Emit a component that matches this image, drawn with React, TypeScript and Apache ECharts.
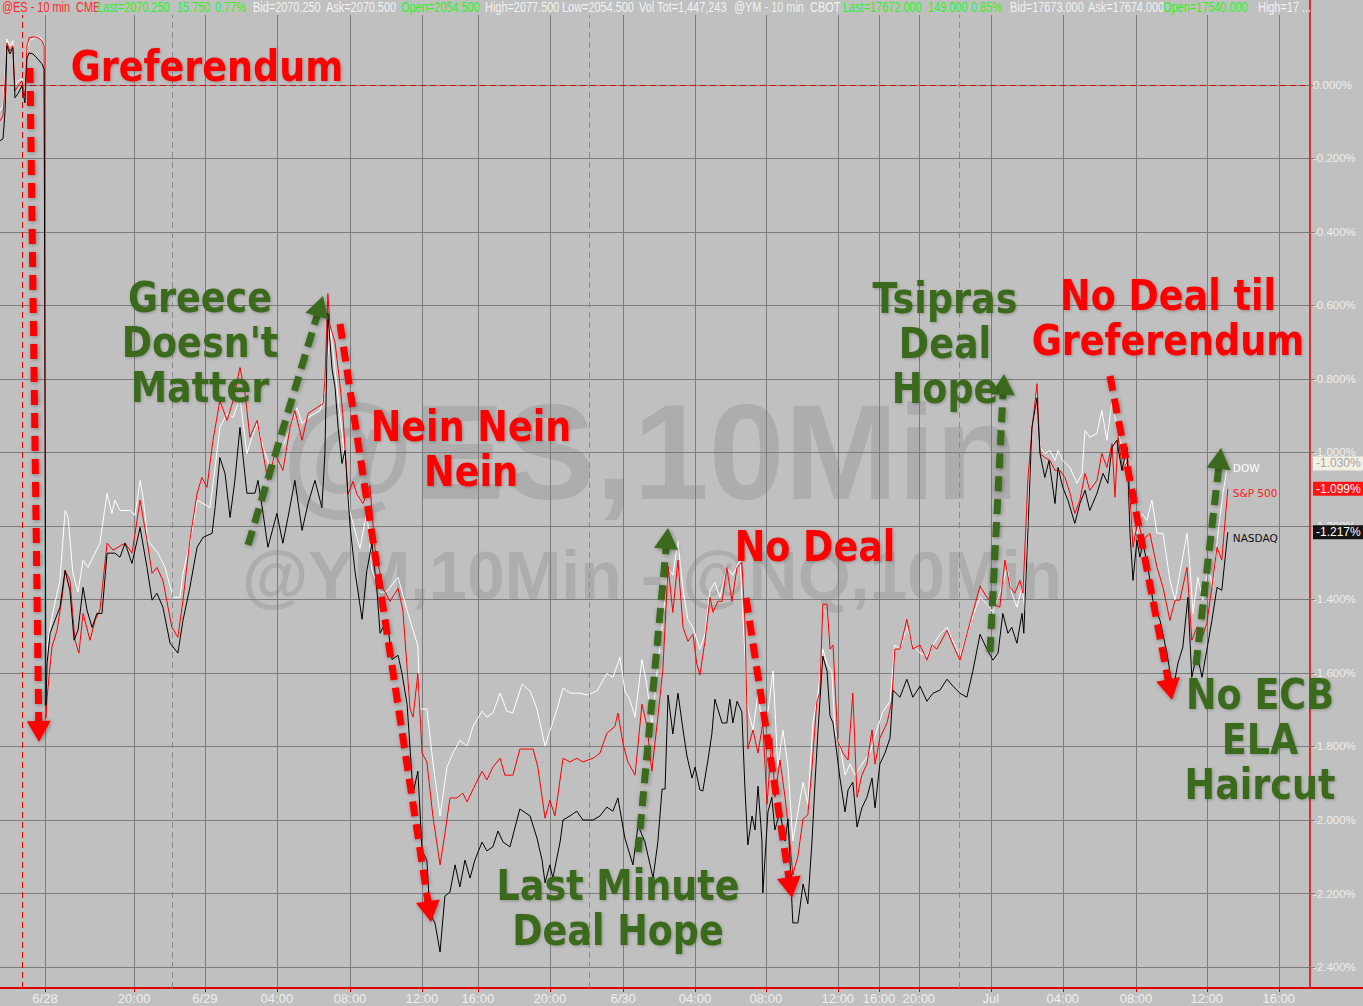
import React, { useEffect, useRef } from "react";
import * as echarts from "echarts";

// x unit = 10-minute bar index on the session chart
const tickBars = [15, 44.7, 68.3, 92.3, 116.7, 140.7, 159.3, 183.3, 207.7, 231.7, 255.3, 279.3, 293, 306.3, 330.3, 354.3, 378.7, 402.3, 426.3];
const tickLabels = ["6/28", "20:00", "6/29", "04:00", "08:00", "12:00", "16:00", "20:00", "6/30", "04:00", "08:00", "12:00", "16:00", "20:00", "Jul", "04:00", "08:00", "12:00", "16:00"];
const weekendBreak = 7.3;
const sessionBreaks = [57.3, 196.3, 319.7];
const yTicks = [0, -0.2, -0.4, -0.6, -0.8, -1.0, -1.2, -1.4, -1.6, -1.8, -2.0, -2.2, -2.4];
const X_MIN = 0, X_MAX = 436.7, Y_MIN = -2.457, Y_MAX = 0.19;
const lastDow = -1.03, lastSpx = -1.099, lastNdx = -1.217;

const dow = [[0,-0.071],[1,-0.057],[1.7,0.038],[2.3,0.125],[3.3,0.106],[4.3,0.12],[5,-0.003],[6,0.011],[7.3,0.016],[8.3,-0.016],[9,0.098],[9.7,0.12],[11,0.125],[12.3,0.133],[14,0.125],[14.7,0.114],[15.3,-1.674],[15.7,-1.53],[16.7,-1.476],[18.3,-1.41],[20,-1.348],[21.7,-1.158],[22.7,-1.177],[24.3,-1.329],[26,-1.38],[27.7,-1.293],[29.3,-1.313],[31,-1.285],[33.3,-1.247],[35.7,-1.111],[37.3,-1.166],[38.3,-1.13],[40,-1.158],[43.3,-1.158],[45,-1.171],[46.7,-1.076],[47.7,-1.122],[49.3,-1.239],[51,-1.258],[52.7,-1.274],[55,-1.313],[57.7,-1.394],[60,-1.394],[61,-1.329],[63.3,-1.247],[65.7,-1.13],[67.7,-1.139],[70,-1.15],[71.7,-1.041],[73.3,-0.932],[75.7,-0.894],[77.7,-0.905],[80,-0.851],[82.3,-1.003],[84,-0.959],[85.7,-0.921],[87.7,-0.986],[90,-1.041],[92.3,-1.003],[94.3,-0.986],[96.7,-0.932],[99,-0.878],[100.7,-0.921],[102.7,-0.905],[105,-0.894],[106.7,-0.886],[108.3,-0.832],[109.3,-0.736],[110.3,-0.668],[111.7,-0.777],[113.3,-0.897],[115,-1.019],[116.7,-1.163],[118.3,-1.212],[120,-1.261],[122.3,-1.163],[124,-1.321],[126.7,-1.38],[128.7,-1.38],[132.7,-1.34],[135.7,-1.429],[139.3,-1.527],[140,-1.698],[142.3,-1.698],[144.3,-1.842],[146.7,-1.989],[149,-1.856],[151,-1.818],[153.3,-1.783],[155.7,-1.799],[157.7,-1.745],[160.7,-1.704],[162.3,-1.72],[164.3,-1.709],[166.7,-1.655],[169,-1.704],[171,-1.709],[174,-1.63],[176.7,-1.649],[179,-1.698],[181.7,-1.799],[183.3,-1.758],[185.7,-1.698],[187.7,-1.641],[190,-1.655],[193.3,-1.655],[195.7,-1.66],[199,-1.649],[202.3,-1.601],[204.3,-1.612],[206.7,-1.557],[208.3,-1.649],[210,-1.674],[211.7,-1.72],[214,-1.563],[215.7,-1.636],[217.3,-1.745],[219.3,-1.576],[221,-1.454],[222.7,-1.313],[224.3,-1.334],[226,-1.242],[227.7,-1.375],[229.3,-1.454],[231,-1.476],[233.3,-1.535],[235,-1.495],[236.7,-1.375],[238.3,-1.353],[240,-1.394],[242.3,-1.313],[244.3,-1.334],[246.7,-1.293],[247.7,-1.454],[249.3,-1.696],[251,-1.755],[252.7,-1.655],[254.3,-1.755],[256,-1.706],[257.7,-1.595],[259.3,-1.856],[261,-1.755],[262.7,-1.856],[264.3,-2.057],[266,-1.978],[267.7,-1.897],[269.3,-1.957],[271,-1.736],[272.7,-1.655],[274.3,-1.535],[275.7,-1.576],[277.3,-1.595],[278.3,-1.755],[280,-1.796],[281.7,-1.878],[283.3,-1.848],[285,-1.878],[286.7,-1.856],[288.3,-1.837],[290,-1.818],[292.3,-1.755],[294.3,-1.706],[296.7,-1.677],[298.3,-1.524],[300,-1.535],[302.3,-1.476],[304.3,-1.524],[306.7,-1.546],[309,-1.554],[311,-1.524],[313.3,-1.495],[315.7,-1.476],[317.7,-1.514],[320,-1.554],[322.3,-1.495],[324.3,-1.446],[326.7,-1.394],[329,-1.413],[331,-1.435],[333.3,-1.383],[335.7,-1.313],[337.3,-1.383],[339,-1.421],[340.7,-1.367],[341.7,-1.429],[342.7,-1.158],[344,-0.94],[345.7,-0.84],[346.7,-0.986],[348.3,-1.003],[350,-0.995],[351.7,-1.022],[352.7,-0.995],[354.3,-1.022],[356.7,-1.041],[359,-1.084],[360.7,-1.057],[361.7,-0.94],[363.3,-0.959],[365.7,-0.948],[367.3,-0.886],[369,-0.967],[370.7,-0.859],[372.3,-0.932],[374,-0.986],[375.7,-1.041],[377.3,-1.204],[379,-1.22],[380.7,-1.166],[382.3,-1.185],[384,-1.13],[385.7,-1.22],[387.7,-1.22],[390,-1.348],[391.7,-1.402],[393.3,-1.329],[395.7,-1.22],[396.7,-1.313],[397.7,-1.438],[399.3,-1.34],[401,-1.402],[402.7,-1.313],[404.3,-1.367],[406,-1.22],[407.7,-1.111],[409.3,-1.03]];

const spx = [[0,-0.098],[1,-0.084],[1.7,0.011],[2.3,0.114],[3.3,0.092],[4.3,0.106],[5,-0.016],[6,-0.003],[7.3,0.011],[8.3,-0.03],[9,0.106],[9.7,0.128],[11,0.13],[12.3,0.13],[14,0.12],[14.7,0.106],[15.3,-1.723],[15.7,-1.666],[17.3,-1.53],[19,-1.484],[20.7,-1.394],[21.7,-1.321],[23.3,-1.348],[25,-1.511],[26.3,-1.546],[27.7,-1.438],[30,-1.511],[31.7,-1.457],[33.3,-1.429],[35.7,-1.247],[37.7,-1.266],[39.3,-1.258],[41.7,-1.247],[44,-1.274],[46.7,-1.13],[49,-1.239],[50.7,-1.329],[52.3,-1.313],[54.3,-1.348],[57.3,-1.476],[59.3,-1.503],[61,-1.402],[63.3,-1.239],[65.7,-1.111],[67.3,-1.068],[69,-1.095],[71,-0.967],[73.3,-0.859],[75.7,-0.913],[77.7,-0.859],[80,-0.769],[81.7,-0.84],[83.3,-0.959],[85.7,-0.913],[87.7,-1.003],[89.3,-1.076],[91.7,-1.003],[94.3,-1.049],[96.7,-0.932],[98.3,-0.886],[100.7,-0.967],[102.7,-0.894],[105.7,-0.878],[107.7,-0.867],[108.3,-0.804],[109.3,-0.568],[110,-0.655],[111.7,-0.701],[113.3,-0.813],[114.3,-0.897],[116,-1.114],[117.7,-1.079],[119,-1.114],[121,-1.139],[123.3,-1.09],[125,-1.261],[127.7,-1.37],[130,-1.405],[132.7,-1.37],[134.3,-1.429],[136.7,-1.698],[137.7,-1.72],[139.3,-1.601],[140.7,-1.818],[142.3,-1.842],[144.3,-1.989],[146.7,-2.122],[148.3,-2.038],[150,-1.94],[152.3,-1.94],[154.3,-1.927],[155.7,-1.951],[157.7,-1.916],[160.7,-1.867],[162.3,-1.891],[164.3,-1.856],[166.7,-1.832],[168.3,-1.878],[171,-1.878],[173.3,-1.807],[175.7,-1.807],[177.7,-1.807],[179.3,-1.856],[181.7,-1.995],[183.3,-1.946],[185,-1.989],[187.7,-1.832],[190,-1.842],[192.3,-1.832],[194.3,-1.842],[197.7,-1.832],[200,-1.818],[202.3,-1.764],[205,-1.745],[206,-1.709],[207.7,-1.793],[209.3,-1.842],[211.7,-1.878],[214,-1.685],[215.7,-1.745],[217.3,-1.867],[219.3,-1.72],[221,-1.587],[222.7,-1.31],[224.3,-1.435],[226,-1.293],[227.7,-1.476],[229.3,-1.514],[231,-1.495],[232.3,-1.576],[233.3,-1.606],[235,-1.514],[236.7,-1.394],[237.7,-1.435],[239.3,-1.405],[240.7,-1.405],[242.3,-1.313],[244,-1.405],[245.7,-1.313],[247.3,-1.299],[248.3,-1.454],[249.3,-1.807],[251,-1.755],[252.7,-1.818],[254.3,-1.736],[255.7,-1.957],[257.3,-1.777],[258.3,-1.938],[260,-1.837],[261.7,-1.938],[263.3,-2.057],[264.3,-2.149],[266,-2.098],[267.7,-1.997],[269.3,-1.986],[270.7,-1.856],[272.3,-1.677],[273.3,-1.655],[274.3,-1.413],[275.7,-1.413],[276.7,-1.535],[277.7,-1.524],[279.3,-1.785],[281,-1.818],[282.7,-1.837],[284.3,-1.655],[285.7,-1.938],[287.3,-1.878],[289,-1.848],[290.7,-1.755],[291.7,-1.848],[293.3,-1.777],[295.7,-1.736],[297.3,-1.677],[298.3,-1.535],[300,-1.535],[302.3,-1.454],[304.3,-1.535],[306.7,-1.524],[309,-1.565],[310.7,-1.524],[312.3,-1.535],[315.7,-1.484],[317.7,-1.524],[320,-1.565],[322.3,-1.495],[324.3,-1.435],[326.7,-1.364],[329,-1.394],[331,-1.413],[333.3,-1.421],[335,-1.293],[336.7,-1.367],[338.3,-1.383],[340,-1.348],[341,-1.383],[342.7,-1.068],[344,-0.94],[345.7,-0.813],[346.7,-1.003],[348.3,-1.014],[350,-1.022],[351.7,-1.049],[353.3,-1.049],[355,-1.068],[356.7,-1.111],[358.3,-1.166],[360,-1.13],[361.7,-1.057],[363.3,-1.103],[365.7,-1.076],[367.3,-1.003],[369,-1.041],[370.7,-0.976],[371.7,-1.122],[372.7,-0.959],[374.3,-1.049],[376,-1.022],[377.7,-1.258],[379.3,-1.185],[381,-1.239],[383.3,-1.22],[385.7,-1.313],[387.7,-1.367],[390,-1.457],[391.7,-1.402],[393.3,-1.402],[395.7,-1.313],[397.3,-1.511],[399,-1.476],[400.7,-1.503],[402.3,-1.465],[404,-1.367],[405.7,-1.258],[407.3,-1.293],[409.3,-1.099]];

const ndx = [[0,-0.152],[1,-0.147],[1.7,-0.071],[2.3,0.106],[3.3,0.084],[4.3,0.101],[5,-0.035],[6,-0.024],[7.3,-0.003],[8.3,-0.049],[9,0.073],[9.7,0.087],[11,0.084],[12.3,0.073],[14,0.057],[14.7,0.043],[15.3,-1.688],[15.7,-1.573],[16.7,-1.492],[18.3,-1.457],[20,-1.421],[21.7,-1.321],[23.3,-1.375],[24.7,-1.511],[26,-1.484],[27.7,-1.367],[29,-1.429],[30.7,-1.476],[32.3,-1.438],[34,-1.438],[35.7,-1.274],[38.3,-1.274],[40,-1.285],[41.7,-1.247],[44,-1.302],[46.7,-1.204],[49,-1.313],[50.7,-1.402],[52.3,-1.383],[54.3,-1.421],[56.7,-1.519],[59.3,-1.546],[61,-1.457],[63.3,-1.367],[65.7,-1.258],[67.7,-1.231],[70.7,-1.22],[71.7,-1.15],[73.3,-1.014],[75,-1.057],[76.7,-1.177],[78.3,-1.076],[80,-0.932],[82.3,-1.111],[85,-1.111],[86,-1.076],[87.7,-1.166],[89.3,-1.258],[92.3,-1.166],[94.3,-1.247],[96,-1.177],[98.3,-1.076],[100.7,-1.212],[102.7,-1.139],[105,-1.076],[107.3,-1.15],[108.3,-1.003],[109.3,-0.622],[110.7,-0.774],[111.7,-0.823],[112.7,-0.932],[114,-1.03],[115,-0.995],[116.7,-1.201],[118.3,-1.321],[120.7,-1.454],[122.3,-1.321],[124,-1.247],[125.7,-1.38],[126.7,-1.492],[129,-1.454],[130.7,-1.563],[132.7,-1.552],[134,-1.601],[135.7,-1.685],[137.7,-1.927],[139.3,-1.867],[140.7,-2.084],[142.3,-2.109],[143.3,-2.255],[145,-2.28],[146.7,-2.359],[148.3,-2.207],[150,-2.196],[151.7,-2.122],[153.3,-2.182],[155,-2.109],[156.7,-2.158],[158.3,-2.109],[160.7,-2.06],[162.3,-2.084],[164.3,-2.073],[166,-2.03],[167.7,-2.06],[170,-2.073],[173.3,-1.97],[176.7,-1.989],[179,-2.049],[180.7,-2.109],[181.7,-2.171],[183.3,-2.122],[184.3,-2.158],[186.7,-2.06],[187.7,-2],[190,-1.989],[192.3,-1.976],[194.3,-2],[197.7,-2],[200,-1.989],[202.3,-1.965],[204.3,-1.976],[206,-1.94],[208.3,-2.049],[211,-2.122],[212.7,-2.014],[215,-2.06],[217.7,-2.158],[219.3,-2.06],[220.7,-1.916],[221.7,-1.916],[222.7,-1.66],[224.3,-1.766],[226,-1.655],[227.7,-1.755],[229,-1.826],[230.7,-1.886],[231.7,-1.856],[233.3,-1.918],[234.3,-1.921],[236,-1.837],[237.3,-1.766],[238.3,-1.671],[240.7,-1.736],[242.3,-1.736],[243.3,-1.671],[244.3,-1.736],[245.7,-1.677],[247.3,-1.706],[248.3,-1.908],[249.3,-2.068],[250.7,-1.989],[251.7,-2.027],[252.7,-1.908],[254,-2.057],[254.3,-2.198],[256,-1.978],[257.3,-1.938],[258.3,-2.027],[260,-1.978],[261.7,-2.057],[262.7,-1.997],[264.3,-2.28],[266,-2.28],[267.7,-2.174],[269.3,-2.228],[270.7,-2.057],[271.7,-1.897],[272.7,-1.755],[274.3,-1.554],[275.7,-1.595],[276.7,-1.717],[277.7,-1.736],[280,-1.886],[281.7,-1.978],[282.7,-1.918],[284.3,-1.897],[285.7,-2.019],[287.3,-1.967],[289,-1.938],[290.7,-1.886],[291.7,-1.967],[293.3,-1.848],[295,-1.818],[296.7,-1.777],[297.7,-1.647],[300,-1.666],[302.3,-1.617],[304.3,-1.666],[306.7,-1.636],[309,-1.677],[311,-1.655],[313.3,-1.647],[315.7,-1.617],[317.7,-1.636],[320,-1.655],[322.3,-1.666],[324.3,-1.595],[326.7,-1.495],[329,-1.535],[331,-1.565],[332.7,-1.546],[334.3,-1.438],[336,-1.492],[337.3,-1.476],[339,-1.519],[340.7,-1.438],[341.3,-1.492],[342.7,-1.204],[344,-0.932],[345.7,-0.851],[346.7,-1.003],[348.3,-1.068],[349.7,-1.022],[351.7,-1.139],[352.7,-1.041],[354.3,-1.095],[356,-1.13],[358.3,-1.193],[360,-1.139],[361.7,-1.103],[363.3,-1.158],[365.7,-1.111],[367.7,-1.057],[369.3,-1.084],[370.7,-0.986],[372.3,-0.967],[374,-1.049],[375.7,-0.986],[376.7,-1.22],[377.7,-1.348],[379,-1.239],[380,-1.285],[381,-1.247],[382.7,-1.313],[384.3,-1.402],[386.7,-1.457],[389,-1.546],[391,-1.647],[392.7,-1.573],[394.3,-1.53],[396,-1.394],[397.3,-1.612],[399,-1.546],[400.7,-1.612],[402.3,-1.538],[404,-1.457],[405.7,-1.367],[407.3,-1.375],[409.3,-1.217]];

const gapLine = [[15, 0.114], [15, -1.69]];

const RED = "#ff0000";
const GREEN = "#3b6b1c";
const HRED = "#ff2a2a";
const HGREEN = "#2ef02e";
const HWHITE = "#f2f2f2";

const headerParts = [
  { t: "@ES - 10 min", c: HRED, x: 2 },
  { t: "CME", c: HRED, x: 76 },
  { t: "Last=2070.250", c: HGREEN, x: 97 },
  { t: "15.750", c: HGREEN, x: 177 },
  { t: "0.77%", c: HGREEN, x: 215 },
  { t: "Bid=2070.250", c: HWHITE, x: 253 },
  { t: "Ask=2070.500", c: HWHITE, x: 326 },
  { t: "Open=2054.500", c: HGREEN, x: 401 },
  { t: "High=2077.500", c: HWHITE, x: 485 },
  { t: "Low=2054.500", c: HWHITE, x: 562 },
  { t: "Vol Tot=1,447,243", c: HWHITE, x: 639 },
  { t: "@YM - 10 min", c: HWHITE, x: 734 },
  { t: "CBOT", c: HWHITE, x: 810 },
  { t: "Last=17672.000", c: HGREEN, x: 843 },
  { t: "149.000", c: HGREEN, x: 928 },
  { t: "0.85%", c: HGREEN, x: 971 },
  { t: "Bid=17673.000", c: HWHITE, x: 1010 },
  { t: "Ask=17674.000", c: HWHITE, x: 1088 },
  { t: "Open=17540.000", c: HGREEN, x: 1163 },
  { t: "High=17 ...", c: HWHITE, x: 1258 },
];

const notes = [
  { t: "Greferendum", c: RED, x: 207, y: 66 },
  { t: "Greece\nDoesn't\nMatter", c: GREEN, x: 200, y: 342 },
  { t: "Nein Nein\nNein", c: RED, x: 471, y: 449 },
  { t: "Last Minute\nDeal Hope", c: GREEN, x: 618, y: 908 },
  { t: "No Deal", c: RED, x: 815, y: 546 },
  { t: "Tsipras\nDeal\nHope", c: GREEN, x: 945, y: 343 },
  { t: "No Deal til\nGreferendum", c: RED, x: 1168, y: 318 },
  { t: "No ECB\nELA\nHaircut", c: GREEN, x: 1260, y: 739 },
];

const arrows = [
  { c: RED, from: [30, 68], to: [39, 742] },
  { c: GREEN, from: [248, 545], to: [323, 296] },
  { c: RED, from: [340, 324], to: [431, 922] },
  { c: GREEN, from: [638, 852], to: [668, 528] },
  { c: RED, from: [746, 598], to: [792, 898] },
  { c: GREEN, from: [990, 652], to: [1004, 374] },
  { c: RED, from: [1110, 376], to: [1172, 700] },
  { c: GREEN, from: [1196, 665], to: [1221, 448] },
];

function arrowGraphic(a: any) {
  const [x1, y1] = a.from;
  const [x2, y2] = a.to;
  const dx = x2 - x1, dy = y2 - y1;
  const L = Math.hypot(dx, dy);
  const ux = dx / L, uy = dy / L;
  const headLen = 21, headW = 12;
  const bx = x2 - ux * headLen, by = y2 - uy * headLen;
  const px = -uy, py = ux;
  const shadow = { shadowBlur: 4, shadowColor: "rgba(0,0,0,0.35)", shadowOffsetX: 1, shadowOffsetY: 1 };
  return [
    {
      type: "line", z: 100, silent: true,
      shape: { x1, y1, x2: bx + ux * 2, y2: by + uy * 2 },
      style: { stroke: a.c, lineWidth: 7, lineDash: [15, 8], ...shadow },
    },
    {
      type: "polygon", z: 100, silent: true,
      shape: { points: [[x2, y2], [bx + px * headW, by + py * headW], [bx - px * headW, by - py * headW]] },
      style: { fill: a.c, ...shadow },
    },
  ];
}

function fmtPct(v: number) {
  return v.toFixed(3) + "%";
}

export default function App() {
  const ref = useRef<HTMLDivElement>(null);
  useEffect(() => {
    const chart = echarts.init(ref.current!, null, { renderer: "svg" });
    const graphic: any[] = [];
    graphic.push({
      type: "text", z: -10, silent: true, x: 650, y: 452,
      style: { text: "@ES,10Min", fill: "#adadad", font: 'bold 136px "Liberation Sans", Arial, sans-serif', align: "center", verticalAlign: "middle" },
    });
    graphic.push({
      type: "text", z: -10, silent: true, x: 652, y: 575,
      style: { text: "@YM,10Min - @NQ,10Min", fill: "#adadad", font: 'bold 68px "Liberation Sans", Arial, sans-serif', align: "center", verticalAlign: "middle" },
    });
    headerParts.forEach((h) => {
      graphic.push({
        type: "text", z: 60, silent: true, x: h.x, y: 8, scaleX: 0.78,
        style: { text: h.t, fill: h.c, font: '14px "Liberation Sans", Arial, sans-serif', align: "left", verticalAlign: "middle" },
      });
    });
    arrows.forEach((a) => graphic.push(...arrowGraphic(a)));
    notes.forEach((n) => {
      graphic.push({
        type: "text", z: 110, silent: true, x: n.x, y: n.y, scaleX: 0.87,
        style: {
          text: n.t, fill: n.c, font: 'bold 42px "DejaVu Sans", Verdana, sans-serif', lineHeight: 45,
          align: "center", verticalAlign: "middle",
          textShadowColor: "rgba(0,0,0,0.25)", textShadowBlur: 3, textShadowOffsetX: 1, textShadowOffsetY: 1,
        },
      });
    });
    // axis line continuations
    graphic.push({ type: "line", z: 50, silent: true, shape: { x1: 1310, y1: 0, x2: 1310, y2: 15 }, style: { stroke: "#e00000", lineWidth: 1.5 } });
    graphic.push({ type: "line", z: 50, silent: true, shape: { x1: 1310, y1: 988, x2: 1363, y2: 988 }, style: { stroke: "#e00000", lineWidth: 2 } });

    const labelFor = (v: number) => {
      const i = tickBars.findIndex((b) => Math.abs(b - v) < 0.01);
      return i >= 0 ? tickLabels[i] : "";
    };
    const yLabelFor = (v: number) => {
      if (Math.abs(v - lastDow) < 1e-6) return "{dow|" + fmtPct(v) + "}";
      if (Math.abs(v - lastSpx) < 1e-6) return "{spx|" + fmtPct(v) + "}";
      if (Math.abs(v - lastNdx) < 1e-6) return "{ndx|" + fmtPct(v) + "}";
      return fmtPct(v);
    };
    const boxBase = { fontSize: 12, fontFamily: '"Liberation Sans", Arial, sans-serif', padding: [1, 3, 1, 3], lineHeight: 14 };

    const lineBase = {
      type: "line", showSymbol: false, symbol: "none", smooth: false, clip: true, silent: true,
    };

    const option: any = {
      animation: false,
      backgroundColor: "#c0c0c0",
      grid: { left: 0, right: 53, top: 15, bottom: 18, containLabel: false, outerBoundsMode: "none" },
      xAxis: {
        type: "value", min: X_MIN, max: X_MAX,
        axisLine: { show: true, onZero: false, lineStyle: { color: "#e00000", width: 2 } },
        axisTick: { show: true, customValues: tickBars, length: 4, lineStyle: { color: "#e00000", width: 1 } },
        axisLabel: {
          customValues: tickBars, formatter: labelFor, color: "#efefef", fontSize: 13,
          fontFamily: '"Liberation Sans Narrow", "Arial Narrow", "Liberation Sans", sans-serif', margin: 4,
        },
        splitLine: { show: true, lineStyle: { color: "#7c7c7c", width: 1 } },
      },
      yAxis: {
        type: "value", position: "right", min: Y_MIN, max: Y_MAX,
        axisLine: { show: true, onZero: false, lineStyle: { color: "#e00000", width: 1.5 } },
        axisTick: { show: true, customValues: yTicks, length: 5, lineStyle: { color: "#7c7c7c" } },
        axisLabel: {
          customValues: [...yTicks, lastDow, lastSpx, lastNdx], formatter: yLabelFor,
          color: "#eeeeee", fontSize: 11.5, fontFamily: '"Liberation Sans", Arial, sans-serif', margin: 3,
          rich: {
            dow: { ...boxBase, backgroundColor: "#f3efe3", color: "#a3a3a3" },
            spx: { ...boxBase, backgroundColor: "#ff1414", color: "#ffffff" },
            ndx: { ...boxBase, backgroundColor: "#141414", color: "#ffffff" },
          },
        },
        splitLine: { show: true, lineStyle: { color: "#7c7c7c", width: 1 } },
      },
      series: [
        {
          ...lineBase, name: "breaks", data: [], z: 1,
          markLine: {
            silent: true, symbol: ["none", "none"], label: { show: false }, animation: false,
            data: [
              { yAxis: 0, lineStyle: { color: "#e00000", type: [6, 4], width: 1 } },
              { xAxis: weekendBreak, lineStyle: { color: "#e00000", type: [6, 4], width: 1 } },
              ...sessionBreaks.map((b) => ({ xAxis: b, lineStyle: { color: "#8c8c8c", type: [6, 4], width: 1 } })),
            ],
          },
        },
        { ...lineBase, name: "gap", data: gapLine, z: 2, lineStyle: { color: "#2f9a9a", width: 1 } },
        {
          ...lineBase, name: "DOW", data: dow, z: 3, lineStyle: { color: "#ffffff", width: 1 },
          endLabel: { show: true, formatter: "DOW", color: "#ffffff", fontSize: 10.5, fontFamily: '"DejaVu Sans", Verdana, sans-serif', distance: 5, offset: [0, 5] },
        },
        {
          ...lineBase, name: "S&P 500", data: spx, z: 4, lineStyle: { color: "#ff0000", width: 1 },
          endLabel: { show: true, formatter: "S&P 500", color: "#ff1a1a", fontSize: 10.5, fontFamily: '"DejaVu Sans", Verdana, sans-serif', distance: 5, offset: [0, 4] },
        },
        {
          ...lineBase, name: "NASDAQ", data: ndx, z: 5, lineStyle: { color: "#000000", width: 1 },
          endLabel: { show: true, formatter: "NASDAQ", color: "#111111", fontSize: 10.5, fontFamily: '"DejaVu Sans", Verdana, sans-serif', distance: 5, offset: [0, 6] },
        },
      ],
      graphic,
    };
    chart.setOption(option);
    return () => chart.dispose();
  }, []);
  return <div ref={ref} style={{ position: "fixed", left: 0, top: 0, width: 1363, height: 1006 }} />;
}
